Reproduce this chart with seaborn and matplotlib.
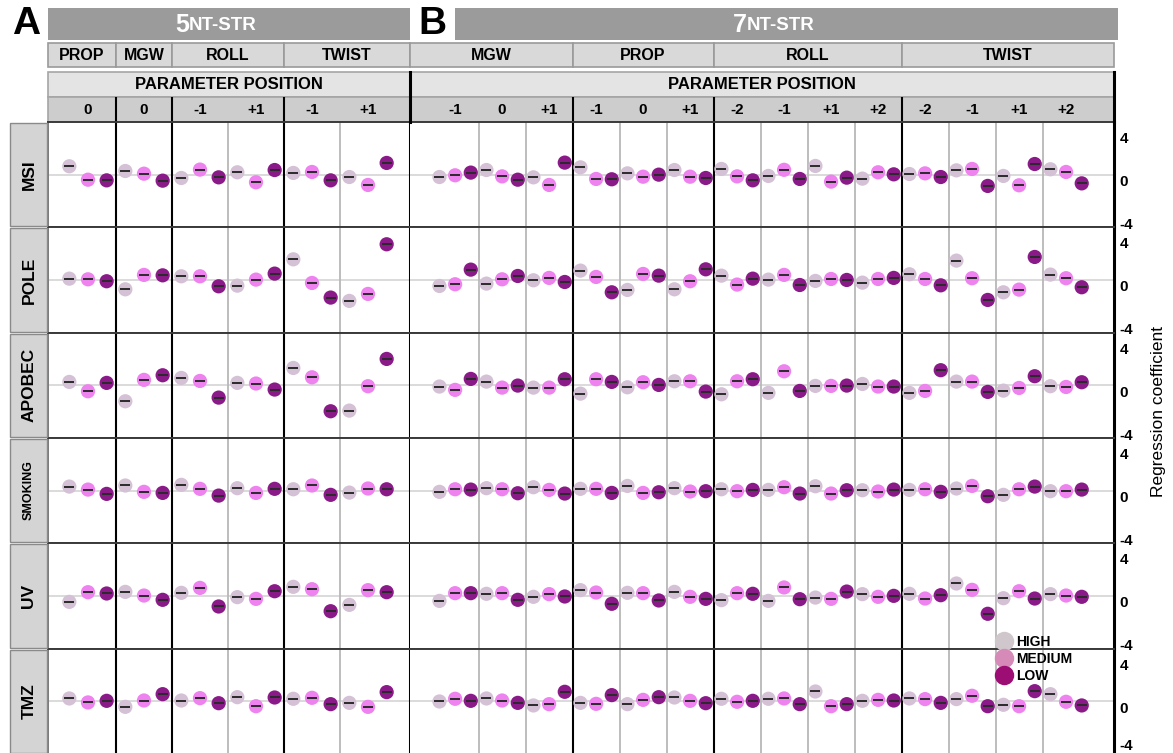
import pandas as pd
import matplotlib
matplotlib.use("Agg")
import matplotlib.pyplot as plt
import matplotlib.transforms as mtransforms
from matplotlib.patches import Rectangle
from matplotlib.lines import Line2D
import seaborn as sns

SIGNATURES = ["MSI", "POLE", "APOBEC", "SMOKING", "UV", "TMZ"]
LEVELS = ["HIGH", "MEDIUM", "LOW"]

PARAMS_5NT = ["PROP", "MGW", "ROLL", "TWIST"]
POSITIONS_5NT = [["0"], ["0"], ["-1", "+1"], ["-1", "+1"]]
PARAMS_7NT = ["MGW", "PROP", "ROLL", "TWIST"]
POSITIONS_7NT = [["-1", "0", "+1"], ["-1", "0", "+1"],
                 ["-2", "-1", "+1", "+2"], ["-2", "-1", "+1", "+2"]]

# regression coefficients, HIGH / MEDIUM / LOW for each parameter position
MSI_5NT = [0.78, -0.47, -0.53, 0.34, 0.09, -0.56, -0.31, 0.47, -0.25,
           0.22, -0.71, 0.43, 0.16, 0.25, -0.53, -0.22, -0.96, 1.09]
MSI_7NT = [-0.22, -0.06, 0.19, 0.43, -0.16, -0.47, -0.25, -0.96, 1.12,
           0.68, -0.40, -0.43, 0.12, -0.19, 0.0, 0.43, -0.19, -0.31,
           0.53, -0.16, -0.53, -0.12, 0.45, -0.40, 0.81, -0.65, -0.28,
           -0.37, 0.22, 0.03, 0.06, 0.12, -0.22, 0.40, 0.53, -1.05,
           -0.12, -0.99, 0.99, 0.50, 0.25, -0.81]

POLE_5NT = [0.12, 0.06, -0.12, -0.87, 0.47, 0.43, 0.34, 0.34, -0.59,
            -0.53, 0.03, 0.59, 1.92, -0.28, -1.64, -1.95, -1.30, 3.32]
POLE_7NT = [-0.56, -0.40, 0.96, -0.34, 0.06, 0.37, -0.03, 0.19, -0.19,
            0.87, 0.28, -1.15, -0.93, 0.56, 0.40, -0.87, -0.12, 0.99,
            0.40, -0.43, 0.12, 0.03, 0.47, -0.47, -0.09, 0.09, 0.0,
            -0.25, 0.09, 0.19, 0.53, 0.09, -0.50, 1.80, 0.16, -1.86,
            -1.15, -0.90, 2.14, 0.50, 0.16, -0.68]

APOBEC_5NT = [0.31, -0.56, 0.22, -1.49, 0.50, 0.93, 0.68, 0.40, -1.15,
              0.22, 0.16, -0.40, 1.61, 0.74, -2.42, -2.36, -0.09, 2.45]
APOBEC_7NT = [-0.12, -0.43, 0.59, 0.34, -0.22, -0.03, -0.22, -0.22, 0.56,
              -0.78, 0.56, 0.31, -0.19, 0.28, 0.03, 0.37, 0.37, -0.59,
              -0.84, 0.37, 0.56, -0.71, 1.30, -0.53, -0.06, -0.06, -0.03,
              0.12, -0.12, -0.12, -0.71, -0.53, 1.40, 0.34, 0.34, -0.62,
              -0.50, -0.25, 0.84, -0.09, -0.16, 0.28]

SMOKING_5NT = [0.37, 0.09, -0.31, 0.47, -0.12, -0.22, 0.53, 0.16, -0.47,
               0.22, -0.22, 0.16, 0.12, 0.47, -0.40, -0.19, 0.19, 0.12]
SMOKING_7NT = [-0.12, 0.12, 0.09, 0.22, 0.12, -0.25, 0.31, 0.06, -0.28,
               0.16, 0.16, -0.22, 0.43, -0.22, -0.16, 0.22, -0.09, -0.06,
               0.12, -0.06, 0.06, 0.06, 0.31, -0.28, 0.40, -0.28, 0.03,
               0.03, -0.09, 0.09, 0.06, 0.12, -0.12, 0.19, 0.43, -0.53,
               -0.40, 0.12, 0.37, -0.06, -0.06, 0.09]

UV_5NT = [-0.56, 0.34, 0.22, 0.37, 0.03, -0.37, 0.28, 0.74, -0.99,
          -0.12, -0.28, 0.43, 0.84, 0.62, -1.43, -0.84, 0.53, 0.34]
UV_7NT = [-0.47, 0.25, 0.25, 0.19, 0.25, -0.37, -0.09, 0.16, -0.06,
          0.53, 0.31, -0.74, 0.28, 0.25, -0.43, 0.37, -0.09, -0.28,
          -0.40, 0.25, 0.19, -0.47, 0.78, -0.31, -0.16, -0.28, 0.40,
          0.16, -0.09, 0.0, 0.19, -0.25, 0.06, 1.15, 0.56, -1.67,
          -0.22, 0.43, -0.25, 0.16, 0.03, -0.09]

TMZ_5NT = [0.25, -0.12, 0.03, -0.53, 0.06, 0.65, 0.06, 0.28, -0.19,
           0.37, -0.47, 0.34, 0.22, 0.31, -0.28, -0.16, -0.53, 0.84]
TMZ_7NT = [-0.03, 0.22, 0.03, 0.25, 0.06, -0.16, -0.40, -0.28, 0.87,
           -0.16, -0.25, 0.56, -0.28, 0.12, 0.37, 0.34, 0.03, -0.19,
           0.22, -0.06, 0.03, 0.22, 0.25, -0.28, 0.90, -0.47, -0.28,
           0.03, 0.12, 0.06, 0.25, 0.19, -0.16, 0.19, 0.50, -0.47,
           -0.34, -0.47, 0.93, 0.65, -0.06, -0.40]

DATA = {
    "MSI": (MSI_5NT, MSI_7NT),
    "POLE": (POLE_5NT, POLE_7NT),
    "APOBEC": (APOBEC_5NT, APOBEC_7NT),
    "SMOKING": (SMOKING_5NT, SMOKING_7NT),
    "UV": (UV_5NT, UV_7NT),
    "TMZ": (TMZ_5NT, TMZ_7NT),
}

PALETTE = {"HIGH": "#d5c1d5", "MEDIUM": "#ee82ee", "LOW": "#8b1a89"}
LEGEND_COLORS = ["#cfc7cb", "#d68ab8", "#9c0e74"]

W, H = 1173, 753
plt.rcParams["font.family"] = ["Liberation Sans", "DejaVu Sans"]

# section: number, params, positions, pixel x range, xlim, title bar range
SECTIONS = [
    ("5", PARAMS_5NT, POSITIONS_5NT, 48, 410, (-0.714, 5.75), 48, 410),
    ("7", PARAMS_7NT, POSITIONS_7NT, 410, 1114, (-0.96, 14.02), 455, 1118),
]
ROW_TOP = 122
ROW_H = 105.3


def px_rect(x0, y0, x1, y1):
    return [x0 / W, 1 - y1 / H, (x1 - x0) / W, (y1 - y0) / H]


def make_frame(values, positions):
    labels = [p for grp in positions for p in grp]
    rows = []
    for g in range(len(labels)):
        for k, lev in enumerate(LEVELS):
            rows.append({"group": g, "level": lev,
                         "value": values[3 * g + k], "x": g + (k - 1) / 3})
    return pd.DataFrame(rows)


def param_spans(positions):
    spans, start = [], 0
    for grp in positions:
        spans.append((start, start + len(grp) - 1))
        start += len(grp)
    return spans


fig = plt.figure(figsize=(W / 100, H / 100), dpi=100)
shift = mtransforms.ScaledTranslation(0, -0.06, fig.dpi_scale_trans)

for s_idx, (num, params, positions, x0, x1, xlim, tx0, tx1) in enumerate(SECTIONS):
    spans = param_spans(positions)
    n_groups = spans[-1][1] + 1
    param_edges = [hi + 0.5 for _, hi in spans[:-1]]

    # title bar
    fig.add_artist(Rectangle((tx0 / W, 1 - 40 / H), (tx1 - tx0) / W, 32 / H,
                             transform=fig.transFigure, fc="#9b9b9b", ec="none"))
    cx = (tx0 + tx1) / 2 - 40
    fig.text(cx / W, 1 - 25 / H, num, color="white", fontsize=18,
             fontweight="bold", ha="right", va="center")
    fig.text(cx / W, 1 - 26 / H, "NT-STR", color="white", fontsize=13.5,
             fontweight="bold", ha="left", va="center")

    # parameter row
    hp = fig.add_axes(px_rect(x0, 42, x1, 68))
    hp.set_xlim(xlim)
    hp.set_ylim(0, 1)
    hp.axis("off")
    for i, (name, (lo, hi)) in enumerate(zip(params, spans)):
        a = xlim[0] if i == 0 else lo - 0.5
        b = xlim[1] if i == len(spans) - 1 else hi + 0.5
        hp.add_patch(Rectangle((a, 0.02), b - a, 0.96, fc="#d9d9d9",
                               ec="#9a9a9a", lw=1.2, clip_on=False))
        hp.text((a + b) / 2, 0.5, name, ha="center", va="center",
                fontsize=11.5, fontweight="bold")

    # "PARAMETER POSITION" row
    ht = fig.add_axes(px_rect(x0, 72, x1, 97))
    ht.set_xlim(xlim)
    ht.set_ylim(0, 1)
    ht.axis("off")
    ht.add_patch(Rectangle((xlim[0], 0), xlim[1] - xlim[0], 1, fc="#e4e4e4",
                           ec="#a5a5a5", lw=1.2, clip_on=False))
    ht.text(sum(xlim) / 2, 0.5, "PARAMETER POSITION", ha="center",
            va="center", fontsize=12, fontweight="bold")

    # position row
    hpos = fig.add_axes(px_rect(x0, 97, x1, 122))
    hpos.set_xlim(xlim)
    hpos.set_ylim(0, 1)
    hpos.axis("off")
    hpos.add_patch(Rectangle((xlim[0], 0), xlim[1] - xlim[0], 1, fc="#cdcdcd",
                             ec="#a5a5a5", lw=1.2, clip_on=False))
    labels = [p for grp in positions for p in grp]
    for g, lab in enumerate(labels):
        hpos.text(g, 0.5, lab, ha="center", va="center", fontsize=11,
                  fontweight="bold")
    for e in param_edges:
        hpos.axvline(e, color="black", lw=1.5)

    # data rows
    for r, sig in enumerate(SIGNATURES):
        top = ROW_TOP + r * ROW_H
        ax = fig.add_axes(px_rect(x0, top, x1, top + ROW_H))
        df = make_frame(DATA[sig][s_idx], positions)
        ax.axhline(0, color="#dadada", lw=1.4, zorder=0)
        for b in range(n_groups - 1):
            e = b + 0.5
            if e in param_edges:
                ax.axvline(e, color="black", lw=1.5, zorder=1)
            else:
                ax.axvline(e, color="#b8b8b8", lw=1.3, zorder=1)
        sns.scatterplot(data=df, x="x", y="value", hue="level",
                        hue_order=LEVELS, palette=PALETTE, s=105,
                        edgecolor="none", legend=False, ax=ax, zorder=3)
        ax.plot(df["x"], df["value"], ls="none", marker="_", ms=6.5,
                mew=1.4, color="#2a2a2a", zorder=4)
        ax.set_xlim(xlim)
        ax.set_ylim(-4.9, 4.9)
        ax.set_xticks([])
        ax.set_xlabel("")
        ax.set_ylabel("")
        for sp in ax.spines.values():
            sp.set_color("#3a3a3a")
            sp.set_linewidth(1.4)
        ax.spines["right"].set_color("black")
        ax.spines["right"].set_linewidth(2.2)
        if s_idx == 1:
            ax.spines["left"].set_visible(False)
            ax.yaxis.tick_right()
            ax.set_yticks([-4, 0, 4])
            ax.set_yticklabels(["-4", "0", "4"], fontsize=11,
                               fontweight="bold")
            ax.tick_params(axis="y", length=0, pad=4)
            for lab in ax.get_yticklabels():
                if r == len(SIGNATURES) - 1 and lab.get_text() == "-4":
                    continue  # keep the bottom-most label inside the figure
                lab.set_transform(lab.get_transform() + shift)
        else:
            ax.spines["left"].set_color("#777777")
            ax.set_yticks([])

        if s_idx == 0:
            fig.add_artist(Rectangle((10 / W, 1 - (top + ROW_H - 1) / H),
                                     37 / W, (ROW_H - 2) / H,
                                     transform=fig.transFigure,
                                     fc="#d4d4d4", ec="#8a8a8a", lw=1))
            fig.text(29 / W, 1 - (top + ROW_H / 2) / H, sig, rotation=90,
                     ha="center", va="center", fontweight="bold",
                     fontsize=9 if sig == "SMOKING" else 12.5)

# thick dividers through the position header
for xp in (410, 1114):
    fig.add_artist(Line2D([xp / W, xp / W], [1 - 72 / H, 1 - 122 / H],
                          transform=fig.transFigure, color="black", lw=2.2))

fig.text(26 / W, 1 - 24 / H, "A", fontsize=28, fontweight="bold",
         ha="center", va="center")
fig.text(432 / W, 1 - 24 / H, "B", fontsize=28, fontweight="bold",
         ha="center", va="center")
fig.text(1158 / W, 1 - 412 / H, "Regression coefficient", rotation=90,
         ha="center", va="center", fontsize=12.5)

handles = [Line2D([], [], ls="none", marker="o", ms=14, mfc=c, mec="none")
           for c in LEGEND_COLORS]
fig.legend(handles, LEVELS, loc="upper left",
           bbox_to_anchor=(987 / W, 1 - 628 / H), frameon=False,
           handletextpad=0.2, labelspacing=0.2, borderpad=0,
           handlelength=1.4, prop={"weight": "bold", "size": 10})

fig.savefig("out.png", dpi=100)
